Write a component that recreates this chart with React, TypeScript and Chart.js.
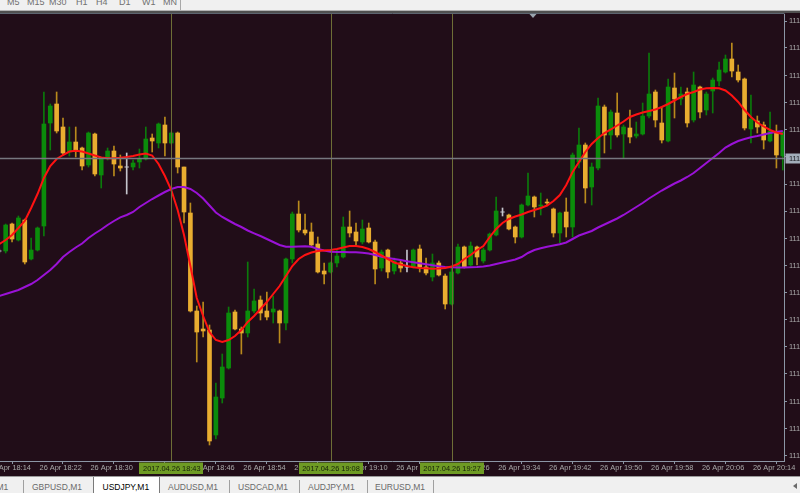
import React, { useEffect, useRef } from 'react';
import { Chart, registerables } from 'chart.js';

Chart.register(...registerables);

// ---------- data (USDJPY, M1, 26 Apr 2017) ----------
const FIRST_BAR_TIME = '18:16';
const OPEN = [111.209, 111.209, 111.236, 111.220, 111.240, 111.201, 111.210, 111.234, 111.337, 111.356,
  111.333, 111.308, 111.318, 111.312, 111.295, 111.326, 111.285, 111.302, 111.309, 111.294,
  111.293, 111.293, 111.298, 111.301, 111.322, 111.317, 111.335, 111.317, 111.327, 111.293,
  111.247, 111.149, 111.131, 111.130, 111.025, 111.062, 111.092, 111.148, 111.131, 111.127,
  111.149, 111.160, 111.149, 111.148, 111.149, 111.137, 111.201, 111.246, 111.230, 111.228,
  111.216, 111.189, 111.188, 111.197, 111.203, 111.233, 111.228, 111.218, 111.232, 111.218,
  111.192, 111.210, 111.189, 111.197, 111.193, 111.193, 111.211, 111.193, 111.183, 111.197,
  111.184, 111.156, 111.187, 111.213, 111.195, 111.213, 111.199, 111.210, 111.225, 111.248,
  111.245, 111.233, 111.223, 111.255, 111.263, 111.254, 111.258, 111.251, 111.227, 111.248,
  111.233, 111.298, 111.315, 111.273, 111.292, 111.353, 111.325, 111.347, 111.326, 111.332,
  111.324, 111.326, 111.344, 111.368, 111.337, 111.319, 111.372, 111.361, 111.368, 111.340,
  111.373, 111.350, 111.369, 111.379, 111.388, 111.401, 111.388, 111.381, 111.331, 111.339,
  111.335, 111.319, 111.327, 111.304];
const HIGH = [111.211, 111.236, 111.237, 111.244, 111.241, 111.222, 111.233, 111.368, 111.356, 111.368,
  111.342, 111.333, 111.333, 111.313, 111.328, 111.327, 111.303, 111.312, 111.314, 111.305,
  111.307, 111.300, 111.311, 111.333, 111.326, 111.337, 111.343, 111.328, 111.328, 111.293,
  111.257, 111.154, 111.158, 111.135, 111.077, 111.106, 111.153, 111.150, 111.133, 111.198,
  111.171, 111.164, 111.168, 111.164, 111.150, 111.202, 111.248, 111.259, 111.246, 111.237,
  111.223, 111.197, 111.198, 111.210, 111.243, 111.249, 111.237, 111.240, 111.237, 111.220,
  111.210, 111.211, 111.202, 111.200, 111.210, 111.211, 111.215, 111.202, 111.206, 111.199,
  111.186, 111.192, 111.216, 111.214, 111.218, 111.214, 111.212, 111.227, 111.263, 111.252,
  111.246, 111.234, 111.256, 111.287, 111.264, 111.267, 111.261, 111.252, 111.248, 111.262,
  111.307, 111.332, 111.317, 111.297, 111.362, 111.355, 111.350, 111.367, 111.335, 111.350,
  111.338, 111.357, 111.407, 111.370, 111.353, 111.381, 111.387, 111.373, 111.372, 111.388,
  111.374, 111.368, 111.382, 111.398, 111.405, 111.417, 111.395, 111.382, 111.365, 111.344,
  111.338, 111.348, 111.335, 111.329];
const LOW = [111.207, 111.207, 111.218, 111.219, 111.196, 111.200, 111.209, 111.224, 111.310, 111.327,
  111.305, 111.304, 111.303, 111.290, 111.293, 111.284, 111.272, 111.300, 111.284, 111.289,
  111.266, 111.290, 111.292, 111.300, 111.308, 111.312, 111.304, 111.316, 111.287, 111.237,
  111.148, 111.098, 111.123, 111.015, 111.021, 111.057, 111.091, 111.130, 111.106, 111.123,
  111.147, 111.140, 111.140, 111.137, 111.117, 111.130, 111.197, 111.228, 111.225, 111.213,
  111.187, 111.176, 111.187, 111.193, 111.202, 111.223, 111.215, 111.216, 111.217, 111.176,
  111.189, 111.182, 111.186, 111.188, 111.188, 111.192, 111.188, 111.185, 111.179, 111.184,
  111.151, 111.155, 111.186, 111.192, 111.194, 111.195, 111.197, 111.209, 111.224, 111.244,
  111.230, 111.217, 111.222, 111.254, 111.243, 111.245, 111.255, 111.223, 111.217, 111.223,
  111.223, 111.292, 111.257, 111.255, 111.290, 111.307, 111.311, 111.323, 111.302, 111.317,
  111.322, 111.325, 111.342, 111.333, 111.317, 111.318, 111.342, 111.355, 111.333, 111.338,
  111.342, 111.345, 111.347, 111.374, 111.387, 111.383, 111.378, 111.330, 111.317, 111.327,
  111.311, 111.318, 111.292, 111.290];
const CLOSE = [111.209, 111.235, 111.221, 111.242, 111.198, 111.210, 111.232, 111.336, 111.354, 111.329,
  111.307, 111.318, 111.310, 111.294, 111.327, 111.286, 111.302, 111.309, 111.296, 111.292,
  111.293, 111.297, 111.301, 111.321, 111.319, 111.336, 111.317, 111.327, 111.293, 111.248,
  111.149, 111.128, 111.129, 111.019, 111.063, 111.093, 111.147, 111.131, 111.127, 111.149,
  111.159, 111.147, 111.143, 111.151, 111.137, 111.201, 111.246, 111.230, 111.227, 111.215,
  111.188, 111.186, 111.197, 111.204, 111.233, 111.227, 111.219, 111.231, 111.218, 111.191,
  111.208, 111.188, 111.199, 111.192, 111.193, 111.210, 111.193, 111.187, 111.197, 111.185,
  111.156, 111.188, 111.213, 111.193, 111.214, 111.203, 111.210, 111.226, 111.249, 111.248,
  111.231, 111.223, 111.255, 111.264, 111.253, 111.255, 111.257, 111.227, 111.247, 111.233,
  111.305, 111.315, 111.272, 111.293, 111.354, 111.325, 111.348, 111.325, 111.333, 111.323,
  111.326, 111.344, 111.366, 111.340, 111.320, 111.373, 111.361, 111.366, 111.337, 111.375,
  111.348, 111.366, 111.380, 111.390, 111.401, 111.389, 111.380, 111.332, 111.341, 111.333,
  111.320, 111.329, 111.305, 111.328];
const MA_FAST = [111.216, 111.220, 111.225, 111.232, 111.239, 111.252, 111.266, 111.282, 111.294, 111.301,
  111.305, 111.3085, 111.3093, 111.3085, 111.3065, 111.3045, 111.3025, 111.3017, 111.3018, 111.3023,
  111.303, 111.304, 111.3055, 111.3065, 111.3045, 111.296, 111.284, 111.270, 111.250, 111.225,
  111.194, 111.162, 111.144, 111.128, 111.120, 111.118, 111.120, 111.124, 111.130, 111.138,
  111.144, 111.151, 111.158, 111.166, 111.174, 111.184, 111.194, 111.201, 111.205, 111.2075,
  111.209, 111.2095, 111.210, 111.211, 111.2125, 111.214, 111.214, 111.213, 111.211, 111.208,
  111.2045, 111.201, 111.1975, 111.1955, 111.194, 111.1927, 111.192, 111.1917, 111.1913, 111.1915,
  111.192, 111.1935, 111.196, 111.201, 111.205, 111.210, 111.214, 111.223, 111.231, 111.237,
  111.241, 111.2435, 111.2455, 111.248, 111.250, 111.252, 111.2545, 111.259, 111.265, 111.275,
  111.288, 111.298, 111.308, 111.316, 111.322, 111.327, 111.3305, 111.3345, 111.3385, 111.343,
  111.3455, 111.3475, 111.349, 111.3505, 111.353, 111.356, 111.3595, 111.363, 111.366, 111.368,
  111.3705, 111.3717, 111.372, 111.3717, 111.3695, 111.3645, 111.358, 111.350, 111.343, 111.3375,
  111.3335, 111.330, 111.3275, 111.326];
const MA_SLOW = [111.164, 111.166, 111.168, 111.170, 111.173, 111.176, 111.180, 111.185, 111.190, 111.196,
  111.203, 111.208, 111.2125, 111.2165, 111.222, 111.2265, 111.2305, 111.235, 111.239, 111.2427,
  111.245, 111.248, 111.253, 111.257, 111.261, 111.2645, 111.268, 111.271, 111.273, 111.273,
  111.271, 111.267, 111.2615, 111.2545, 111.2475, 111.243, 111.2395, 111.236, 111.233, 111.2295,
  111.2267, 111.224, 111.221, 111.218, 111.215, 111.2133, 111.2133, 111.2135, 111.2137, 111.2133,
  111.211, 111.2095, 111.2083, 111.208, 111.208, 111.2078, 111.2077, 111.2073, 111.2065, 111.205,
  111.2033, 111.202, 111.201, 111.200, 111.1988, 111.1978, 111.1967, 111.1957, 111.1947, 111.1937,
  111.193, 111.1927, 111.1925, 111.1925, 111.1927, 111.193, 111.1935, 111.1945, 111.196, 111.1975,
  111.199, 111.2005, 111.203, 111.207, 111.210, 111.2117, 111.2133, 111.2145, 111.2158, 111.2175,
  111.221, 111.2245, 111.2267, 111.229, 111.2325, 111.2355, 111.2385, 111.2415, 111.245, 111.249,
  111.253, 111.257, 111.2615, 111.2655, 111.2695, 111.273, 111.2765, 111.2795, 111.283, 111.287,
  111.292, 111.297, 111.302, 111.307, 111.3125, 111.316, 111.319, 111.321, 111.3227, 111.324,
  111.3255, 111.327, 111.328, 111.329];
const TIME_TICK_LABELS = ['26 Apr 18:14', '26 Apr 18:22', '26 Apr 18:30', '26 Apr 18:38', '26 Apr 18:46',
  '26 Apr 18:54', '26 Apr 19:02', '26 Apr 19:10', '26 Apr 19:18', '26 Apr 19:26', '26 Apr 19:34',
  '26 Apr 19:42', '26 Apr 19:50', '26 Apr 19:58', '26 Apr 20:06', '26 Apr 20:14'];
const VLINE_LABELS = ['2017.04.26 18:43', '2017.04.26 19:08', '2017.04.26 19:27'];
const Y_TICKS = [111.439, 111.412, 111.384, 111.357, 111.330, 111.303, 111.276, 111.249, 111.221,
  111.194, 111.167, 111.140, 111.113, 111.086, 111.058, 111.031, 111.004];
const BID = 111.302;
const VIEW_START = '18:16.11';
const VIEW_END = '20:19.19';
const Y_MIN = 110.999;
const Y_MAX = 111.446;
const TIMEFRAMES = ['M5', 'M15', 'M30', 'H1', 'H4', 'D1', 'W1', 'MN'];
const TABS = ['M1', 'GBPUSD,M1', 'USDJPY,M1', 'AUDUSD,M1', 'USDCAD,M1', 'AUDJPY,M1', 'EURUSD,M1'];
const ACTIVE_TAB = 'USDJPY,M1';

// ---------- style ----------
const BG = '#210d18';
const GREEN_BODY = '#0b8c0b';
const GREEN_WICK = '#0b7a0b';
const ORANGE_BODY = '#e9ad30';
const ORANGE_WICK = '#b98a1c';
const DOJI = '#c4c4cc';
const AXIS = '#8c96a5';
const TEXT = '#a9a9a9';
const FONT = '"Liberation Sans", Arial, sans-serif';
const TF_X = [7, 27, 49, 76, 96, 119, 142, 163];
const TAB_X = [-3.5, 32, 102.5, 168, 238, 308, 375];
const TAB_SEP = [22.5, 229, 299, 367, 433];

const toMin = (t: string) => {
  const hm = t.trim().split(' ').pop() as string;
  const [h, m] = hm.split(':').map(Number);
  return (h - 18) * 60 + m;
};
const X0 = toMin(FIRST_BAR_TIME);
const xs = OPEN.map((_, i) => X0 + i);

const overlay = {
  id: 'mt4overlay',
  afterDatasetsDraw(chart: any) {
    const { ctx, chartArea: a, scales } = chart;
    const x = scales.x, y = scales.y;
    ctx.save();
    ctx.beginPath();
    ctx.rect(a.left, a.top, a.right - a.left, a.bottom - a.top);
    ctx.clip();
    ctx.strokeStyle = '#6e6e36';
    ctx.lineWidth = 1;
    VLINE_LABELS.forEach((l) => {
      const px = Math.round(x.getPixelForValue(toMin(l))) + 0.5;
      ctx.beginPath();
      ctx.moveTo(px, a.top);
      ctx.lineTo(px, a.bottom);
      ctx.stroke();
    });
    const by = y.getPixelForValue(BID);
    ctx.strokeStyle = '#77777f';
    ctx.lineWidth = 1.4;
    ctx.beginPath();
    ctx.moveTo(a.left, by + 0.5);
    ctx.lineTo(a.right, by + 0.5);
    ctx.stroke();
    ctx.restore();
  },
  afterDraw(chart: any) {
    const { ctx, chartArea: a, scales } = chart;
    const x = scales.x, y = scales.y;
    ctx.save();
    // top border
    ctx.strokeStyle = '#5d6570';
    ctx.lineWidth = 1;
    ctx.beginPath();
    ctx.moveTo(0, a.top - 0.5);
    ctx.lineTo(a.right + 0.5, a.top - 0.5);
    ctx.stroke();
    // highlighted time labels
    ctx.font = `7.4px ${FONT}`;
    ctx.textAlign = 'center';
    ctx.textBaseline = 'middle';
    VLINE_LABELS.forEach((l) => {
      const cx = x.getPixelForValue(toMin(l));
      ctx.fillStyle = '#6e9b24';
      ctx.fillRect(Math.round(cx - 32), a.bottom + 1.5, 64, 11.5);
      ctx.fillStyle = '#16200a';
      ctx.fillText(l, cx + 0.5, a.bottom + 7.5);
    });
    // bid price label
    const by = y.getPixelForValue(BID);
    ctx.fillStyle = '#a3adba';
    ctx.fillRect(a.right + 1.5, by - 4.5, 50, 10);
    ctx.fillStyle = '#1e1e24';
    ctx.textAlign = 'left';
    ctx.fillText(BID.toFixed(3), a.right + 5, by + 0.8);
    // chart shift marker
    const sx = 533;
    ctx.fillStyle = '#9aa3ad';
    ctx.beginPath();
    ctx.moveTo(sx - 3.5, a.top);
    ctx.lineTo(sx + 3.5, a.top);
    ctx.lineTo(sx, a.top + 4);
    ctx.closePath();
    ctx.fill();
    ctx.restore();
  },
};

export default function App() {
  const ref = useRef<HTMLCanvasElement>(null);
  useEffect(() => {
    document.body.style.margin = '0';
    const canvas = ref.current as HTMLCanvasElement;
    const dir = OPEN.map((o, i) => (CLOSE[i] > o ? 1 : CLOSE[i] < o ? -1 : 0));
    const bodyColors = dir.map((d) => (d > 0 ? GREEN_BODY : d < 0 ? ORANGE_BODY : 'rgba(0,0,0,0)'));
    const wickColors = dir.map((d) => (d > 0 ? GREEN_WICK : d < 0 ? ORANGE_WICK : DOJI));
    const dojiPts = xs.map((xv, i) => ({ x: xv, y: OPEN[i] })).filter((_, i) => dir[i] === 0);

    const chart = new Chart(canvas, {
      type: 'bar',
      data: {
        datasets: [
          {
            type: 'line',
            label: 'MA fast',
            data: xs.map((xv, i) => ({ x: xv, y: MA_FAST[i] })),
            borderColor: '#ff1212',
            borderWidth: 2,
            pointRadius: 0,
            tension: 0,
            order: 0,
          } as any,
          {
            type: 'line',
            label: 'MA slow',
            data: xs.map((xv, i) => ({ x: xv, y: MA_SLOW[i] })),
            borderColor: '#9a12d6',
            borderWidth: 2,
            pointRadius: 0,
            tension: 0,
            order: 1,
          } as any,
          {
            type: 'line',
            label: 'doji',
            data: dojiPts,
            showLine: false,
            pointStyle: 'line',
            pointRadius: 2.2,
            pointBorderColor: DOJI,
            pointBorderWidth: 1,
            order: 2,
          } as any,
          {
            label: 'body',
            data: xs.map((xv, i) => ({ x: xv, y: [OPEN[i], CLOSE[i]] })),
            backgroundColor: bodyColors,
            borderWidth: 0,
            barThickness: 4,
            grouped: false,
            order: 3,
          } as any,
          {
            label: 'wick',
            data: xs.map((xv, i) => ({ x: xv, y: [LOW[i], HIGH[i]] })),
            backgroundColor: wickColors,
            borderWidth: 0,
            barThickness: 1,
            grouped: false,
            order: 4,
          } as any,
        ],
      },
      options: {
        animation: false,
        responsive: false,
        devicePixelRatio: 1,
        events: [],
        layout: { padding: { top: 14, left: 0, right: 0, bottom: 0 }, autoPadding: false } as any,
        plugins: { legend: { display: false }, tooltip: { enabled: false }, title: { display: false } },
        scales: {
          x: {
            type: 'linear',
            min: toMin(VIEW_START),
            max: toMin(VIEW_END),
            offset: false,
            afterBuildTicks: (s: any) => {
              s.ticks = TIME_TICK_LABELS.map((l) => ({ value: toMin(l) }));
            },
            afterFit: (s: any) => {
              s.height = 17;
              s.paddingLeft = 0;
              s.paddingRight = 0;
            },
            ticks: {
              autoSkip: false,
              maxRotation: 0,
              minRotation: 0,
              align: 'start',
              labelOffset: 2,
              padding: 0,
              color: TEXT,
              font: { family: FONT, size: 7.4 },
              callback: (_v: any, i: number) => TIME_TICK_LABELS[i],
            },
            grid: { display: true, drawOnChartArea: false, drawTicks: true, tickLength: 3, color: AXIS },
            border: { display: true, color: AXIS, width: 1 },
          } as any,
          y: {
            type: 'linear',
            position: 'right',
            min: Y_MIN,
            max: Y_MAX,
            afterBuildTicks: (s: any) => {
              s.ticks = Y_TICKS.map((v) => ({ value: v }));
            },
            afterFit: (s: any) => {
              s.width = 46;
              s.paddingTop = 0;
              s.paddingBottom = 0;
            },
            ticks: {
              padding: 2,
              color: TEXT,
              font: { family: FONT, size: 7.4 },
              callback: (v: any) => Number(v).toFixed(3),
            },
            grid: { display: true, drawOnChartArea: false, drawTicks: true, tickLength: 3, color: AXIS },
            border: { display: true, color: AXIS, width: 1 },
          } as any,
        },
      },
      plugins: [overlay as any],
    } as any);
    return () => chart.destroy();
  }, []);

  return (
    <div style={{ position: 'fixed', left: 0, top: 0, width: 800, height: 493, overflow: 'hidden', background: '#f0f0f0', fontFamily: FONT }}>
      <div style={{ position: 'absolute', left: 0, top: 13, width: 800, height: 463, background: BG }} />
      <canvas ref={ref} width={830} height={478} style={{ position: 'absolute', left: 0, top: 0, width: 830, height: 478, display: 'block' }} />
      <div style={{ position: 'absolute', left: 0, top: 0, width: 800, height: 10, background: '#f0f0f0', overflow: 'hidden' }}>
        {TIMEFRAMES.map((t, i) => (
          <span key={t} style={{ position: 'absolute', left: TF_X[i], top: -3.5, fontSize: 9, lineHeight: '10px', color: '#707070', whiteSpace: 'nowrap' }}>{t}</span>
        ))}
        <div style={{ position: 'absolute', left: 180, top: 0, width: 1, height: 10, background: '#a8a8a8' }} />
      </div>
      <div style={{ position: 'absolute', left: 0, top: 10, width: 800, height: 1, background: '#b4b4b4' }} />
      <div style={{ position: 'absolute', left: 0, top: 11, width: 800, height: 2, background: '#505050' }} />
      <div style={{ position: 'absolute', left: 0, top: 476, width: 800, height: 1, background: '#9a9a9a' }} />
      <div style={{ position: 'absolute', left: 0, top: 477, width: 800, height: 16, background: '#f0f0f0' }}>
        <div style={{ position: 'absolute', left: 93, top: 0, width: 64.5, height: 16, background: '#ffffff', borderLeft: '1px solid #7a7a7a', borderRight: '1px solid #7a7a7a' }} />
        {TAB_SEP.map((sx) => (
          <div key={sx} style={{ position: 'absolute', left: sx, top: 3, width: 1, height: 13, background: '#a0a0a0' }} />
        ))}
        {TABS.map((t, i) => (
          <span key={t} style={{ position: 'absolute', left: TAB_X[i], top: 4.5, fontSize: 8.5, lineHeight: '10px', whiteSpace: 'nowrap', color: t === ACTIVE_TAB ? '#000000' : '#6a6a6a' }}>{t}</span>
        ))}
        <div style={{ position: 'absolute', left: 793, top: 6, width: 0, height: 0, borderTop: '3px solid transparent', borderBottom: '3px solid transparent', borderRight: '4px solid #6a6a6a' }} />
      </div>
    </div>
  );
}
